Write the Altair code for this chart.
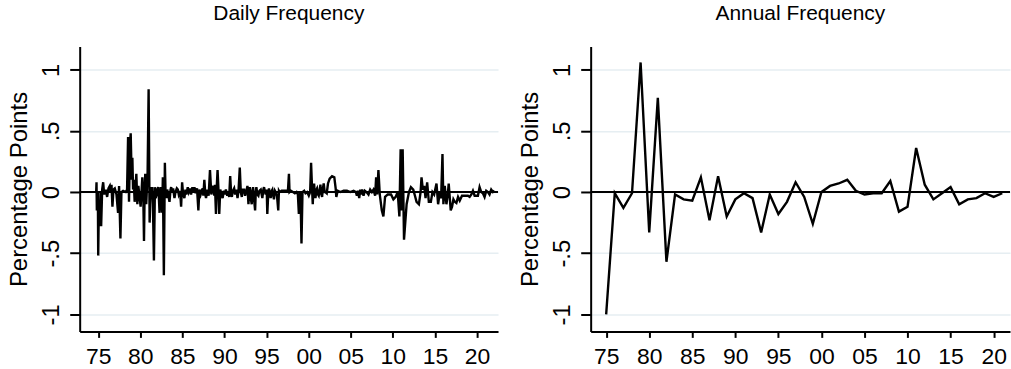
import altair as alt
import pandas as pd

# Daily (event-day) changes, dated in decimal years
daily_dates = [
    1974.76, 1974.80, 1974.84, 1974.96, 1975.00, 1975.08, 1975.16, 1975.28, 1975.35, 1975.47,
    1975.59, 1975.71, 1975.91, 1976.06, 1976.22, 1976.38, 1976.50, 1976.58, 1976.69, 1976.81,
    1976.97, 1977.17, 1977.36, 1977.48, 1977.64, 1977.76, 1977.96, 1978.27, 1978.43, 1978.55,
    1978.66, 1978.78, 1978.86, 1978.98, 1979.06, 1979.14, 1979.22, 1979.33, 1979.45, 1979.53,
    1979.65, 1979.77, 1979.85, 1979.93, 1980.04, 1980.16, 1980.24, 1980.36, 1980.44, 1980.52,
    1980.59, 1980.71, 1980.79, 1980.87, 1980.99, 1981.11, 1981.23, 1981.34, 1981.42, 1981.50,
    1981.62, 1981.74, 1981.82, 1981.90, 1982.01, 1982.13, 1982.21, 1982.29, 1982.37, 1982.45,
    1982.53, 1982.60, 1982.68, 1982.80, 1982.92, 1983.00, 1983.08, 1983.20, 1983.31, 1983.47,
    1983.59, 1983.67, 1983.79, 1983.90, 1984.06, 1984.18, 1984.34, 1984.46, 1984.57, 1984.73,
    1984.85, 1984.97, 1985.09, 1985.24, 1985.36, 1985.48, 1985.64, 1985.76, 1985.91, 1986.03,
    1986.19, 1986.31, 1986.43, 1986.58, 1986.74, 1986.90, 1987.02, 1987.17, 1987.29, 1987.41,
    1987.49, 1987.61, 1987.73, 1987.81, 1987.96, 1988.12, 1988.28, 1988.44, 1988.55, 1988.67,
    1988.79, 1988.87, 1988.99, 1989.07, 1989.18, 1989.30, 1989.38, 1989.50, 1989.58, 1989.70,
    1989.78, 1989.93, 1990.05, 1990.17, 1990.33, 1990.44, 1990.56, 1990.68, 1990.80, 1990.88,
    1991.00, 1991.15, 1991.27, 1991.43, 1991.55, 1991.67, 1991.82, 1991.94, 1992.06, 1992.18,
    1992.34, 1992.45, 1992.61, 1992.73, 1992.85, 1992.93, 1993.01, 1993.12, 1993.24, 1993.32,
    1993.40, 1993.52, 1993.64, 1993.72, 1993.79, 1993.91, 1994.03, 1994.15, 1994.31, 1994.42,
    1994.50, 1994.62, 1994.70, 1994.82, 1994.90, 1995.02, 1995.09, 1995.21, 1995.29, 1995.41,
    1995.49, 1995.61, 1995.69, 1995.80, 1995.88, 1996.00, 1996.08, 1996.24, 1996.39, 1996.47,
    1996.55, 1996.79, 1997.06, 1997.34, 1997.54, 1997.66, 1997.73, 1997.89, 1998.13, 1998.36,
    1998.56, 1998.72, 1998.84, 1998.96, 1999.03, 1999.15, 1999.27, 1999.47, 1999.63, 1999.82,
    2000.02, 2000.18, 2000.29, 2000.41, 2000.49, 2000.57, 2000.65, 2000.73, 2000.81, 2000.93,
    2001.00, 2001.12, 2001.20, 2001.32, 2001.40, 2001.48, 2001.60, 2001.67, 2001.79, 2001.91,
    2001.99, 2002.15, 2002.30, 2002.50, 2002.78, 2003.05, 2003.21, 2003.29, 2003.45, 2003.76,
    2004.16, 2004.55, 2004.94, 2005.34, 2005.61, 2005.73, 2005.85, 2006.01, 2006.13, 2006.24,
    2006.36, 2006.52, 2006.68, 2006.87, 2007.11, 2007.31, 2007.51, 2007.70, 2007.90, 2008.02,
    2008.14, 2008.29, 2008.45, 2008.69, 2008.88, 2009.08, 2009.40, 2009.79, 2010.07, 2010.34,
    2010.58, 2010.78, 2010.93, 2011.05, 2011.17, 2011.33, 2011.64, 2011.92, 2012.15, 2012.43,
    2012.63, 2012.82, 2013.10, 2013.30, 2013.41, 2013.57, 2013.73, 2013.89, 2014.08, 2014.28,
    2014.52, 2014.71, 2014.91, 2015.19, 2015.38, 2015.58, 2015.74, 2015.90, 2016.01, 2016.17,
    2016.37, 2016.53, 2016.64, 2016.88, 2017.04, 2017.20, 2017.36, 2017.55, 2017.75, 2017.95,
    2018.22, 2018.50, 2018.93, 2019.13, 2019.33, 2019.52, 2019.72, 2020.11, 2020.31, 2020.51,
    2020.70, 2020.90, 2021.10, 2021.30, 2021.49, 2021.69, 2021.89, 2022.08,
]
daily_values = [
    0.00, 0.08, -0.15, 0.00, -0.52, -0.10, -0.28, 0.00, -0.28, 0.02,
    0.08, -0.02, 0.02, -0.04, 0.03, 0.05, 0.00, 0.06, -0.12, 0.02,
    0.03, -0.02, -0.17, 0.05, -0.38, 0.00, 0.01, 0.00, 0.02, 0.45,
    -0.08, 0.40, 0.48, 0.10, 0.28, 0.02, 0.10, -0.08, 0.05, 0.15,
    -0.10, 0.05, 0.00, -0.05, -0.12, 0.02, 0.12, -0.05, -0.40, 0.02,
    0.15, -0.10, 0.04, 0.16, 0.84, -0.25, 0.04, -0.02, 0.04, -0.10,
    -0.56, 0.04, -0.05, -0.03, 0.02, 0.04, -0.05, -0.17, 0.00, 0.04,
    -0.05, -0.17, 0.12, -0.68, 0.24, 0.00, -0.05, 0.02, -0.02, -0.08,
    0.02, 0.04, 0.00, 0.03, -0.05, 0.00, 0.03, 0.02, -0.02, 0.01,
    -0.12, 0.08, -0.02, -0.05, 0.02, -0.02, 0.04, 0.00, 0.03, -0.02,
    0.04, 0.00, 0.04, -0.01, 0.03, -0.15, 0.02, -0.02, 0.01, 0.03,
    -0.03, 0.10, -0.02, -0.05, 0.02, -0.03, 0.18, -0.02, 0.03, 0.05,
    -0.03, 0.06, -0.18, 0.02, 0.18, 0.00, -0.18, 0.02, 0.00, -0.03,
    -0.05, 0.01, -0.02, 0.02, -0.03, 0.00, -0.04, 0.13, -0.02, -0.04,
    0.01, 0.03, -0.02, 0.02, -0.05, 0.01, 0.20, 0.00, -0.04, 0.02,
    0.02, -0.03, 0.01, 0.05, -0.10, 0.00, 0.04, -0.05, -0.10, 0.01,
    0.04, -0.06, -0.15, 0.00, 0.04, -0.02, -0.03, 0.01, 0.02, -0.02,
    -0.05, 0.02, 0.04, 0.00, -0.02, 0.02, -0.18, 0.00, 0.03, -0.02,
    -0.05, 0.01, 0.02, -0.03, -0.06, 0.01, 0.00, -0.03, -0.15, 0.01,
    0.00, 0.01, 0.01, 0.01, 0.01, 0.15, 0.00, 0.01, 0.00, -0.01,
    0.00, -0.02, -0.18, 0.00, -0.01, -0.42, 0.00, 0.01, -0.01, 0.00,
    -0.03, 0.00, 0.24, 0.02, -0.10, 0.03, 0.07, -0.02, -0.05, 0.02,
    0.03, -0.02, -0.03, 0.02, 0.06, -0.01, -0.04, 0.02, 0.07, 0.00,
    0.00, -0.01, 0.07, 0.11, 0.13, 0.12, 0.03, -0.04, 0.01, 0.00,
    0.01, 0.01, 0.00, 0.01, 0.00, -0.03, 0.01, -0.05, 0.02, -0.02,
    0.02, -0.03, 0.01, 0.00, -0.02, 0.02, 0.00, 0.02, -0.03, 0.12,
    -0.02, 0.18, -0.02, -0.15, -0.20, -0.04, -0.02, -0.02, -0.06, -0.04,
    0.00, -0.20, 0.35, -0.15, 0.35, -0.39, -0.10, 0.00, 0.04, 0.02,
    -0.03, -0.08, -0.10, 0.00, 0.12, 0.02, 0.05, -0.05, 0.08, -0.08,
    -0.08, 0.00, -0.02, 0.07, -0.10, 0.00, -0.05, 0.31, -0.10, 0.05,
    -0.10, -0.02, 0.07, -0.15, -0.12, -0.06, -0.08, -0.09, -0.04, -0.07,
    -0.03, -0.03, -0.03, -0.04, -0.02, 0.01, -0.03, -0.03, 0.04, 0.00,
    -0.01, -0.04, 0.01, 0.00, -0.02, 0.02, 0.00, 0.01,
]

# Annual changes
annual_years = list(range(1975, 2022))
annual_values = [
    -1.00, -0.01, -0.13, -0.01, 1.06, -0.33, 0.77, -0.57, -0.02, -0.06,
    -0.07, 0.12, -0.23, 0.13, -0.20, -0.06, -0.01, -0.05, -0.33, -0.02,
    -0.18, -0.08, 0.08, -0.04, -0.26, 0.00, 0.05, 0.07, 0.10, 0.01,
    -0.02, -0.01, -0.01, 0.09, -0.16, -0.12, 0.36, 0.06, -0.06, -0.01,
    0.04, -0.10, -0.06, -0.05, -0.01, -0.04, -0.01,
]

x_ticks = [1975, 1980, 1985, 1990, 1995, 2000, 2005, 2010, 2015, 2020]
y_ticks = [-1, -0.5, 0, 0.5, 1]
y_domain = [-1.14, 1.19]

FONT = "Liberation Sans"
GRID = "#e6eef2"

daily_df = pd.DataFrame({"date": daily_dates, "value": daily_values})
annual_df = pd.DataFrame({"date": annual_years, "value": annual_values})
zero_df = pd.DataFrame({"z": [0]})

y_label_expr = (
    "datum.value == 1 ? '1' : datum.value == 0.5 ? '.5' : datum.value == 0 ? '0' : "
    "datum.value == -0.5 ? '-.5' : '-1'"
)


def panel(df, title, x_domain, width):
    x = alt.X(
        "date:Q",
        scale=alt.Scale(domain=x_domain, nice=False, zero=False),
        axis=alt.Axis(
            values=x_ticks,
            labelExpr="slice(toString(datum.value), 2)",
            title=None,
            grid=False,
            tickSize=6,
            labelPadding=8,
            labelFontSize=23,
        ),
    )
    y = alt.Y(
        "value:Q",
        scale=alt.Scale(domain=y_domain, nice=False, zero=False),
        axis=alt.Axis(
            values=y_ticks,
            labelExpr=y_label_expr,
            labelAngle=-90,
            labelAlign="center",
            labelBaseline="bottom",
            title="Percentage Points",
            grid=True,
            gridColor=GRID,
            gridWidth=1.5,
            tickSize=10,
            labelPadding=6,
            titlePadding=8,
        ),
    )
    line = alt.Chart(df).mark_line(color="black", strokeWidth=2.4, clip=True).encode(x=x, y=y)
    zero = alt.Chart(zero_df).mark_rule(color="black", strokeWidth=2).encode(y=alt.datum(0))
    return alt.layer(line, zero).properties(
        width=width,
        height=286,
        title=alt.Title(title, fontSize=21, font=FONT, fontWeight="normal", offset=23),
    )


left = panel(daily_df, "Daily Frequency", [1972.8, 2022.5], 420)
right = panel(annual_df, "Annual Frequency", [1973.2, 2021.9], 421)

chart = (
    alt.hconcat(left, right, spacing=20)
    .properties(padding={"left": 8, "top": 2, "right": 0, "bottom": 0})
    .configure_view(stroke=None)
    .configure_axis(
        labelFont=FONT,
        titleFont=FONT,
        labelFontSize=24,
        titleFontSize=24,
        titleFontWeight="normal",
        labelColor="black",
        titleColor="black",
        domainColor="black",
        tickColor="black",
        domainWidth=2,
        tickWidth=2,
    )
    .configure_title(anchor="middle", color="black")
)

chart.save("out.html", embed_options={"renderer": "svg", "actions": False})
